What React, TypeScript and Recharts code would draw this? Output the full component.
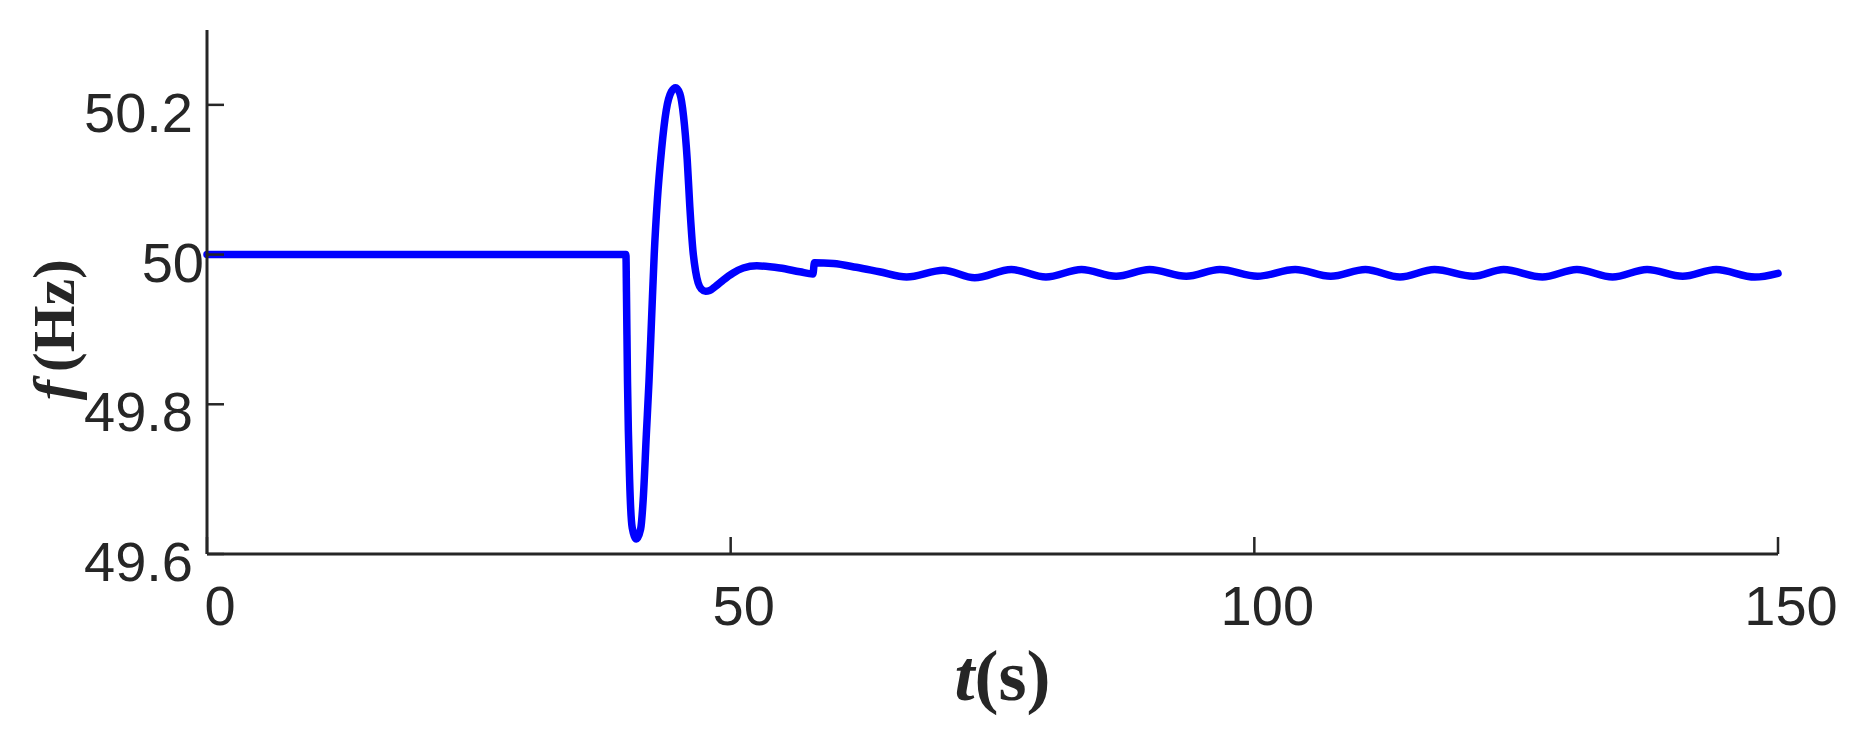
import { LineChart, Line, XAxis, YAxis, Label } from "recharts";

// time (s)
const times = [
	0, 40.0, 40.05, 40.15, 40.35, 40.6, 41.0, 41.4, 41.65, 41.95, 42.2, 42.45,
	42.7, 43.0, 43.4, 43.85, 44.35, 44.75, 45.15, 45.5, 45.85, 46.1, 46.4, 46.65,
	46.9, 47.2, 47.6, 48.0, 48.6, 49.3, 50.2, 51.2, 52.5, 54.7, 56.6, 57.85,
	58.0, 59.8, 62.0, 64.2, 66.8, 70.3, 73.3, 76.8, 80.1, 83.5, 86.8, 90.0, 93.5,
	96.7, 100.3, 103.9, 107.3, 110.6, 113.9, 117.2, 120.9, 123.8, 127.5, 130.8,
	134.2, 137.5, 140.9, 144.1, 147.8, 150,
];

// frequency (Hz)
const freqs = [
	50, 50, 49.95, 49.83, 49.7, 49.635, 49.62, 49.633, 49.673, 49.76, 49.83,
	49.915, 50.0, 50.073, 50.14, 50.193, 50.218, 50.223, 50.215, 50.185, 50.127,
	50.064, 50.005, 49.978, 49.962, 49.954, 49.951, 49.952, 49.958, 49.966,
	49.975, 49.982, 49.985, 49.982, 49.977, 49.974, 49.989, 49.988, 49.983,
	49.977, 49.97, 49.979, 49.969, 49.98, 49.97, 49.98, 49.971, 49.98, 49.971,
	49.98, 49.971, 49.98, 49.971, 49.98, 49.97, 49.98, 49.971, 49.98, 49.97,
	49.98, 49.97, 49.98, 49.971, 49.98, 49.97, 49.975,
];

const xTicks = [0, 50, 100, 150];
const yTicks = [49.6, 49.8, 50, 50.2];

const data = times.map((t, i) => ({ t, f: freqs[i] }));

const INK = "#262626";
const SANS = "'Liberation Sans', Arial, sans-serif";
const SERIF = "'Liberation Serif', 'Times New Roman', serif";

const XTick = (props: any) => {
	const { x, y, payload } = props;
	return (
		<g>
			<line x1={x} x2={x} y1={y} y2={y - 17} stroke={INK} strokeWidth={2.5} />
			<text
				x={x + 13}
				y={y + 71}
				textAnchor='middle'
				fontFamily={SANS}
				fontSize={56}
				fill={INK}>
				{payload.value}
			</text>
		</g>
	);
};

const YTick = (props: any) => {
	const { x, y, payload } = props;
	const shift = payload.value === 50 ? -3 : -14;
	return (
		<g>
			<line x1={x} x2={x + 17} y1={y} y2={y} stroke={INK} strokeWidth={2.5} />
			<text
				x={x + shift}
				y={y + 27}
				textAnchor='end'
				fontFamily={SANS}
				fontSize={56}
				fill={INK}>
				{payload.value}
			</text>
		</g>
	);
};

const XLabel = (props: any) => {
	const vb = props.viewBox || { x: 207, y: 554, width: 1571, height: 100 };
	return (
		<text
			x={vb.x + vb.width / 2 + 10}
			y={vb.y + 146}
			textAnchor='middle'
			fontFamily={SERIF}
			fontWeight='bold'
			fontSize={72}
			fill={INK}>
			<tspan fontStyle='italic'>t</tspan>
			<tspan>(s)</tspan>
		</text>
	);
};

const YLabel = (props: any) => {
	const vb = props.viewBox || { x: 0, y: 30, width: 207, height: 524 };
	const cx = vb.x + 74;
	const cy = vb.y + 229;
	return (
		<text
			x={cx}
			y={cy}
			transform={`rotate(-90, ${cx}, ${cy})`}
			textAnchor='end'
			fontFamily={SERIF}
			fontWeight='bold'
			fontSize={60}
			fill={INK}>
			<tspan fontStyle='italic'>f</tspan>
			<tspan dx={8}>(Hz)</tspan>
		</text>
	);
};

export default function App() {
	return (
		<div style={{ position: "absolute", left: 0, top: 0, background: "#fff" }}>
			<LineChart
				width={1855}
				height={729}
				data={data}
				margin={{ top: 30, right: 77, bottom: 75, left: 0 }}>
				<XAxis
					dataKey='t'
					type='number'
					domain={[0, 150]}
					ticks={xTicks}
					interval={0}
					height={100}
					tickSize={0}
					tickMargin={0}
					tickLine={false}
					axisLine={{ stroke: INK, strokeWidth: 3 }}
					tick={<XTick />}>
					<Label content={<XLabel />} />
				</XAxis>
				<YAxis
					type='number'
					domain={[49.6, 50.3]}
					ticks={yTicks}
					interval={0}
					width={207}
					tickSize={0}
					tickMargin={0}
					tickLine={false}
					allowDataOverflow
					axisLine={{ stroke: INK, strokeWidth: 3 }}
					tick={<YTick />}>
					<Label content={<YLabel />} />
				</YAxis>
				<Line
					dataKey='f'
					type='monotone'
					stroke='#0000ff'
					strokeWidth={7.5}
					strokeLinecap='round'
					strokeLinejoin='round'
					dot={false}
					activeDot={false}
					isAnimationActive={false}
				/>
			</LineChart>
		</div>
	);
}
